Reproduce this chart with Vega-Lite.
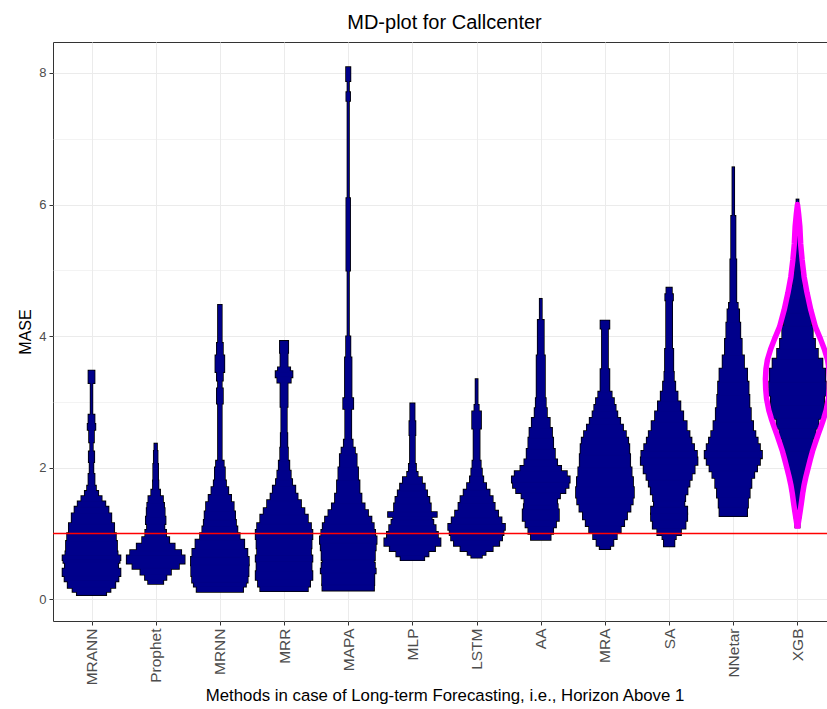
{
  "$schema": "https://vega.github.io/schema/vega-lite/v6.json",
  "width": 783,
  "height": 579,
  "autosize": "none",
  "padding": {"left": 53, "top": 42, "right": -9, "bottom": 88},
  "background": "white",
  "title": {
    "text": "MD-plot for Callcenter",
    "font": "Liberation Sans",
    "fontSize": 20,
    "fontWeight": "normal",
    "color": "black",
    "anchor": "middle",
    "offset": 9
  },
  "config": {
    "view": {"stroke": "#333333", "strokeWidth": 1},
    "axis": {
      "labelFont": "Liberation Sans",
      "titleFont": "Liberation Sans",
      "labelColor": "#4D4D4D",
      "titleColor": "black",
      "titleFontWeight": "normal",
      "domain": false,
      "tickColor": "#333333",
      "tickSize": 4,
      "gridColor": "#EBEBEB"
    }
  },
  "datasets": {
    "bins": [
      {"m":"MRANN","lo":0.07,"hi":0.12,"w":0.50},{"m":"MRANN","lo":0.12,"hi":0.18,"w":0.65},{"m":"MRANN","lo":0.18,"hi":0.28,"w":0.82},{"m":"MRANN","lo":0.28,"hi":0.36,"w":0.93},{"m":"MRANN","lo":0.36,"hi":0.46,"w":1.0},{"m":"MRANN","lo":0.46,"hi":0.56,"w":0.92},{"m":"MRANN","lo":0.56,"hi":0.60,"w":0.97},{"m":"MRANN","lo":0.60,"hi":0.66,"w":1.0},{"m":"MRANN","lo":0.66,"hi":0.72,"w":0.90},{"m":"MRANN","lo":0.72,"hi":0.88,"w":0.88},{"m":"MRANN","lo":0.88,"hi":1.0,"w":0.84},{"m":"MRANN","lo":1.0,"hi":1.15,"w":0.78},{"m":"MRANN","lo":1.15,"hi":1.3,"w":0.68},{"m":"MRANN","lo":1.3,"hi":1.4,"w":0.58},{"m":"MRANN","lo":1.4,"hi":1.48,"w":0.47},{"m":"MRANN","lo":1.48,"hi":1.56,"w":0.34},{"m":"MRANN","lo":1.56,"hi":1.64,"w":0.22},{"m":"MRANN","lo":1.64,"hi":1.72,"w":0.14},{"m":"MRANN","lo":1.72,"hi":1.90,"w":0.09},{"m":"MRANN","lo":1.90,"hi":2.09,"w":0.05},{"m":"MRANN","lo":2.09,"hi":2.24,"w":0.08},{"m":"MRANN","lo":2.24,"hi":2.39,"w":0.03},{"m":"MRANN","lo":2.39,"hi":2.58,"w":0.07},{"m":"MRANN","lo":2.58,"hi":2.66,"w":0.12},{"m":"MRANN","lo":2.66,"hi":2.80,"w":0.09},{"m":"MRANN","lo":2.80,"hi":3.29,"w":0.015},{"m":"MRANN","lo":3.29,"hi":3.47,"w":0.09},

      {"m":"Prophet","lo":0.24,"hi":0.30,"w":0.25},{"m":"Prophet","lo":0.30,"hi":0.38,"w":0.36},{"m":"Prophet","lo":0.38,"hi":0.47,"w":0.52},{"m":"Prophet","lo":0.47,"hi":0.55,"w":0.80},{"m":"Prophet","lo":0.55,"hi":0.66,"w":1.0},{"m":"Prophet","lo":0.66,"hi":0.74,"w":0.88},{"m":"Prophet","lo":0.74,"hi":0.84,"w":0.65},{"m":"Prophet","lo":0.84,"hi":0.94,"w":0.46},{"m":"Prophet","lo":0.94,"hi":1.05,"w":0.35},{"m":"Prophet","lo":1.05,"hi":1.15,"w":0.29},{"m":"Prophet","lo":1.15,"hi":1.25,"w":0.33},{"m":"Prophet","lo":1.25,"hi":1.38,"w":0.30},{"m":"Prophet","lo":1.38,"hi":1.46,"w":0.28},{"m":"Prophet","lo":1.46,"hi":1.56,"w":0.24},{"m":"Prophet","lo":1.56,"hi":1.66,"w":0.14},{"m":"Prophet","lo":1.66,"hi":1.80,"w":0.08},{"m":"Prophet","lo":1.80,"hi":2.05,"w":0.07},{"m":"Prophet","lo":2.05,"hi":2.25,"w":0.05},{"m":"Prophet","lo":2.25,"hi":2.36,"w":0.03},

      {"m":"MRNN","lo":0.12,"hi":0.20,"w":0.80},{"m":"MRNN","lo":0.20,"hi":0.26,"w":0.90},{"m":"MRNN","lo":0.26,"hi":0.36,"w":0.96},{"m":"MRNN","lo":0.36,"hi":0.52,"w":0.99},{"m":"MRNN","lo":0.52,"hi":0.64,"w":1.0},{"m":"MRNN","lo":0.64,"hi":0.76,"w":0.95},{"m":"MRNN","lo":0.76,"hi":0.90,"w":0.84},{"m":"MRNN","lo":0.90,"hi":1.00,"w":0.68},{"m":"MRNN","lo":1.00,"hi":1.10,"w":0.60},{"m":"MRNN","lo":1.10,"hi":1.20,"w":0.55},{"m":"MRNN","lo":1.20,"hi":1.33,"w":0.52},{"m":"MRNN","lo":1.33,"hi":1.47,"w":0.47},{"m":"MRNN","lo":1.47,"hi":1.58,"w":0.38},{"m":"MRNN","lo":1.58,"hi":1.70,"w":0.28},{"m":"MRNN","lo":1.70,"hi":1.80,"w":0.20},{"m":"MRNN","lo":1.80,"hi":2.00,"w":0.16},{"m":"MRNN","lo":2.00,"hi":2.10,"w":0.12},{"m":"MRNN","lo":2.10,"hi":2.98,"w":0.05},{"m":"MRNN","lo":2.98,"hi":3.20,"w":0.09},{"m":"MRNN","lo":3.20,"hi":3.33,"w":0.05},{"m":"MRNN","lo":3.33,"hi":3.46,"w":0.09},{"m":"MRNN","lo":3.46,"hi":3.70,"w":0.14},{"m":"MRNN","lo":3.70,"hi":3.89,"w":0.09},{"m":"MRNN","lo":3.89,"hi":4.47,"w":0.05},

      {"m":"MRR","lo":0.13,"hi":0.20,"w":0.82},{"m":"MRR","lo":0.20,"hi":0.30,"w":0.90},{"m":"MRR","lo":0.30,"hi":0.42,"w":0.98},{"m":"MRR","lo":0.42,"hi":0.58,"w":0.95},{"m":"MRR","lo":0.58,"hi":0.66,"w":0.98},{"m":"MRR","lo":0.66,"hi":0.78,"w":0.93},{"m":"MRR","lo":0.78,"hi":0.92,"w":0.95},{"m":"MRR","lo":0.92,"hi":1.05,"w":0.98},{"m":"MRR","lo":1.05,"hi":1.15,"w":0.93},{"m":"MRR","lo":1.15,"hi":1.28,"w":0.82},{"m":"MRR","lo":1.28,"hi":1.38,"w":0.70},{"m":"MRR","lo":1.38,"hi":1.50,"w":0.58},{"m":"MRR","lo":1.50,"hi":1.60,"w":0.46},{"m":"MRR","lo":1.60,"hi":1.72,"w":0.38},{"m":"MRR","lo":1.72,"hi":1.82,"w":0.27},{"m":"MRR","lo":1.82,"hi":1.95,"w":0.22},{"m":"MRR","lo":1.95,"hi":2.10,"w":0.17},{"m":"MRR","lo":2.10,"hi":2.30,"w":0.12},{"m":"MRR","lo":2.30,"hi":2.52,"w":0.10},{"m":"MRR","lo":2.52,"hi":2.93,"w":0.08},{"m":"MRR","lo":2.93,"hi":3.30,"w":0.11},{"m":"MRR","lo":3.30,"hi":3.38,"w":0.22},{"m":"MRR","lo":3.38,"hi":3.46,"w":0.28},{"m":"MRR","lo":3.46,"hi":3.52,"w":0.20},{"m":"MRR","lo":3.52,"hi":3.75,"w":0.11},{"m":"MRR","lo":3.75,"hi":3.92,"w":0.13},

      {"m":"MAPA","lo":0.14,"hi":0.22,"w":0.89},{"m":"MAPA","lo":0.22,"hi":0.40,"w":0.90},{"m":"MAPA","lo":0.40,"hi":0.46,"w":0.95},{"m":"MAPA","lo":0.46,"hi":0.55,"w":0.92},{"m":"MAPA","lo":0.55,"hi":0.60,"w":0.88},{"m":"MAPA","lo":0.60,"hi":0.75,"w":0.92},{"m":"MAPA","lo":0.75,"hi":0.85,"w":0.95},{"m":"MAPA","lo":0.85,"hi":0.95,"w":0.98},{"m":"MAPA","lo":0.95,"hi":1.05,"w":0.93},{"m":"MAPA","lo":1.05,"hi":1.15,"w":0.88},{"m":"MAPA","lo":1.15,"hi":1.25,"w":0.80},{"m":"MAPA","lo":1.25,"hi":1.35,"w":0.68},{"m":"MAPA","lo":1.35,"hi":1.45,"w":0.56},{"m":"MAPA","lo":1.45,"hi":1.60,"w":0.45},{"m":"MAPA","lo":1.60,"hi":1.80,"w":0.38},{"m":"MAPA","lo":1.80,"hi":2.00,"w":0.33},{"m":"MAPA","lo":2.00,"hi":2.20,"w":0.28},{"m":"MAPA","lo":2.20,"hi":2.30,"w":0.22},{"m":"MAPA","lo":2.30,"hi":2.42,"w":0.14},{"m":"MAPA","lo":2.42,"hi":2.90,"w":0.09},{"m":"MAPA","lo":2.90,"hi":3.05,"w":0.16},{"m":"MAPA","lo":3.05,"hi":3.67,"w":0.10},{"m":"MAPA","lo":3.67,"hi":3.99,"w":0.06},{"m":"MAPA","lo":3.99,"hi":5.00,"w":0.01},{"m":"MAPA","lo":5.00,"hi":6.09,"w":0.05},{"m":"MAPA","lo":6.09,"hi":7.58,"w":0.01},{"m":"MAPA","lo":7.58,"hi":7.70,"w":0.05},{"m":"MAPA","lo":7.70,"hi":7.88,"w":0.01},{"m":"MAPA","lo":7.88,"hi":8.08,"w":0.06},

      {"m":"MLP","lo":0.60,"hi":0.66,"w":0.40},{"m":"MLP","lo":0.66,"hi":0.74,"w":0.55},{"m":"MLP","lo":0.74,"hi":0.82,"w":0.78},{"m":"MLP","lo":0.82,"hi":0.92,"w":0.97},{"m":"MLP","lo":0.92,"hi":1.02,"w":0.88},{"m":"MLP","lo":1.02,"hi":1.12,"w":0.80},{"m":"MLP","lo":1.12,"hi":1.20,"w":0.72},{"m":"MLP","lo":1.20,"hi":1.26,"w":0.66},{"m":"MLP","lo":1.26,"hi":1.32,"w":0.84},{"m":"MLP","lo":1.32,"hi":1.45,"w":0.63},{"m":"MLP","lo":1.45,"hi":1.55,"w":0.58},{"m":"MLP","lo":1.55,"hi":1.65,"w":0.50},{"m":"MLP","lo":1.65,"hi":1.75,"w":0.42},{"m":"MLP","lo":1.75,"hi":1.85,"w":0.32},{"m":"MLP","lo":1.85,"hi":1.93,"w":0.17},{"m":"MLP","lo":1.93,"hi":2.05,"w":0.11},{"m":"MLP","lo":2.05,"hi":2.50,"w":0.07},{"m":"MLP","lo":2.50,"hi":2.70,"w":0.09},{"m":"MLP","lo":2.70,"hi":2.97,"w":0.06},

      {"m":"LSTM","lo":0.64,"hi":0.68,"w":0.17},{"m":"LSTM","lo":0.68,"hi":0.74,"w":0.30},{"m":"LSTM","lo":0.74,"hi":0.82,"w":0.55},{"m":"LSTM","lo":0.82,"hi":0.90,"w":0.78},{"m":"LSTM","lo":0.90,"hi":0.98,"w":0.88},{"m":"LSTM","lo":0.98,"hi":1.06,"w":0.93},{"m":"LSTM","lo":1.06,"hi":1.14,"w":0.98},{"m":"LSTM","lo":1.14,"hi":1.24,"w":0.86},{"m":"LSTM","lo":1.24,"hi":1.34,"w":0.74},{"m":"LSTM","lo":1.34,"hi":1.46,"w":0.62},{"m":"LSTM","lo":1.46,"hi":1.56,"w":0.55},{"m":"LSTM","lo":1.56,"hi":1.66,"w":0.44},{"m":"LSTM","lo":1.66,"hi":1.76,"w":0.32},{"m":"LSTM","lo":1.76,"hi":1.86,"w":0.22},{"m":"LSTM","lo":1.86,"hi":1.98,"w":0.17},{"m":"LSTM","lo":1.98,"hi":2.10,"w":0.13},{"m":"LSTM","lo":2.10,"hi":2.60,"w":0.09},{"m":"LSTM","lo":2.60,"hi":2.85,"w":0.14},{"m":"LSTM","lo":2.85,"hi":2.95,"w":0.06},{"m":"LSTM","lo":2.95,"hi":3.34,"w":0.02},

      {"m":"AA","lo":0.91,"hi":1.00,"w":0.33},{"m":"AA","lo":1.00,"hi":1.10,"w":0.42},{"m":"AA","lo":1.10,"hi":1.20,"w":0.52},{"m":"AA","lo":1.20,"hi":1.36,"w":0.62},{"m":"AA","lo":1.36,"hi":1.44,"w":0.58},{"m":"AA","lo":1.44,"hi":1.54,"w":0.56},{"m":"AA","lo":1.54,"hi":1.62,"w":0.66},{"m":"AA","lo":1.62,"hi":1.70,"w":0.85},{"m":"AA","lo":1.70,"hi":1.78,"w":0.96},{"m":"AA","lo":1.78,"hi":1.86,"w":1.0},{"m":"AA","lo":1.86,"hi":1.94,"w":0.90},{"m":"AA","lo":1.94,"hi":2.02,"w":0.70},{"m":"AA","lo":2.02,"hi":2.12,"w":0.56},{"m":"AA","lo":2.12,"hi":2.28,"w":0.48},{"m":"AA","lo":2.28,"hi":2.45,"w":0.42},{"m":"AA","lo":2.45,"hi":2.60,"w":0.38},{"m":"AA","lo":2.60,"hi":2.75,"w":0.30},{"m":"AA","lo":2.75,"hi":2.90,"w":0.20},{"m":"AA","lo":2.90,"hi":3.05,"w":0.16},{"m":"AA","lo":3.05,"hi":3.70,"w":0.13},{"m":"AA","lo":3.70,"hi":4.24,"w":0.09},{"m":"AA","lo":4.24,"hi":4.56,"w":0.02},

      {"m":"MRA","lo":0.77,"hi":0.82,"w":0.17},{"m":"MRA","lo":0.82,"hi":0.92,"w":0.28},{"m":"MRA","lo":0.92,"hi":1.02,"w":0.40},{"m":"MRA","lo":1.02,"hi":1.12,"w":0.54},{"m":"MRA","lo":1.12,"hi":1.22,"w":0.66},{"m":"MRA","lo":1.22,"hi":1.34,"w":0.76},{"m":"MRA","lo":1.34,"hi":1.45,"w":0.88},{"m":"MRA","lo":1.45,"hi":1.55,"w":0.96},{"m":"MRA","lo":1.55,"hi":1.70,"w":1.0},{"m":"MRA","lo":1.70,"hi":1.85,"w":0.97},{"m":"MRA","lo":1.85,"hi":2.00,"w":0.92},{"m":"MRA","lo":2.00,"hi":2.20,"w":0.87},{"m":"MRA","lo":2.20,"hi":2.35,"w":0.84},{"m":"MRA","lo":2.35,"hi":2.45,"w":0.80},{"m":"MRA","lo":2.45,"hi":2.55,"w":0.72},{"m":"MRA","lo":2.55,"hi":2.65,"w":0.62},{"m":"MRA","lo":2.65,"hi":2.75,"w":0.52},{"m":"MRA","lo":2.75,"hi":2.85,"w":0.42},{"m":"MRA","lo":2.85,"hi":2.95,"w":0.36},{"m":"MRA","lo":2.95,"hi":3.05,"w":0.30},{"m":"MRA","lo":3.05,"hi":3.15,"w":0.22},{"m":"MRA","lo":3.15,"hi":3.49,"w":0.14},{"m":"MRA","lo":3.49,"hi":4.12,"w":0.09},{"m":"MRA","lo":4.12,"hi":4.23,"w":0.14},

      {"m":"SA","lo":0.81,"hi":0.92,"w":0.17},{"m":"SA","lo":0.92,"hi":0.98,"w":0.22},{"m":"SA","lo":0.98,"hi":1.08,"w":0.40},{"m":"SA","lo":1.08,"hi":1.20,"w":0.56},{"m":"SA","lo":1.20,"hi":1.30,"w":0.62},{"m":"SA","lo":1.30,"hi":1.40,"w":0.62},{"m":"SA","lo":1.40,"hi":1.50,"w":0.52},{"m":"SA","lo":1.50,"hi":1.60,"w":0.55},{"m":"SA","lo":1.60,"hi":1.72,"w":0.63},{"m":"SA","lo":1.72,"hi":1.82,"w":0.70},{"m":"SA","lo":1.82,"hi":1.92,"w":0.78},{"m":"SA","lo":1.92,"hi":2.05,"w":0.88},{"m":"SA","lo":2.05,"hi":2.15,"w":0.98},{"m":"SA","lo":2.15,"hi":2.25,"w":0.96},{"m":"SA","lo":2.25,"hi":2.35,"w":0.86},{"m":"SA","lo":2.35,"hi":2.45,"w":0.77},{"m":"SA","lo":2.45,"hi":2.55,"w":0.70},{"m":"SA","lo":2.55,"hi":2.70,"w":0.60},{"m":"SA","lo":2.70,"hi":2.85,"w":0.48},{"m":"SA","lo":2.85,"hi":3.00,"w":0.38},{"m":"SA","lo":3.00,"hi":3.15,"w":0.28},{"m":"SA","lo":3.15,"hi":3.30,"w":0.20},{"m":"SA","lo":3.30,"hi":3.45,"w":0.15},{"m":"SA","lo":3.45,"hi":3.80,"w":0.13},{"m":"SA","lo":3.80,"hi":4.55,"w":0.09},{"m":"SA","lo":4.55,"hi":4.63,"w":0.12},{"m":"SA","lo":4.63,"hi":4.73,"w":0.08},

      {"m":"NNetar","lo":1.27,"hi":1.40,"w":0.47},{"m":"NNetar","lo":1.40,"hi":1.55,"w":0.50},{"m":"NNetar","lo":1.55,"hi":1.70,"w":0.56},{"m":"NNetar","lo":1.70,"hi":1.85,"w":0.62},{"m":"NNetar","lo":1.85,"hi":1.95,"w":0.72},{"m":"NNetar","lo":1.95,"hi":2.05,"w":0.82},{"m":"NNetar","lo":2.05,"hi":2.15,"w":0.92},{"m":"NNetar","lo":2.15,"hi":2.25,"w":0.99},{"m":"NNetar","lo":2.25,"hi":2.35,"w":0.92},{"m":"NNetar","lo":2.35,"hi":2.45,"w":0.84},{"m":"NNetar","lo":2.45,"hi":2.55,"w":0.76},{"m":"NNetar","lo":2.55,"hi":2.70,"w":0.68},{"m":"NNetar","lo":2.70,"hi":2.90,"w":0.60},{"m":"NNetar","lo":2.90,"hi":3.10,"w":0.55},{"m":"NNetar","lo":3.10,"hi":3.30,"w":0.52},{"m":"NNetar","lo":3.30,"hi":3.50,"w":0.47},{"m":"NNetar","lo":3.50,"hi":3.70,"w":0.36},{"m":"NNetar","lo":3.70,"hi":3.95,"w":0.28},{"m":"NNetar","lo":3.95,"hi":4.20,"w":0.23},{"m":"NNetar","lo":4.20,"hi":4.40,"w":0.19},{"m":"NNetar","lo":4.40,"hi":4.50,"w":0.14},{"m":"NNetar","lo":4.50,"hi":5.16,"w":0.09},{"m":"NNetar","lo":5.16,"hi":5.82,"w":0.06},{"m":"NNetar","lo":5.82,"hi":6.56,"w":0.015},

      {"m":"XGB","lo":1.10,"hi":1.25,"w":0.06},{"m":"XGB","lo":1.25,"hi":1.45,"w":0.10},{"m":"XGB","lo":1.45,"hi":1.65,"w":0.15},{"m":"XGB","lo":1.65,"hi":1.85,"w":0.22},{"m":"XGB","lo":1.85,"hi":2.05,"w":0.30},{"m":"XGB","lo":2.05,"hi":2.25,"w":0.40},{"m":"XGB","lo":2.25,"hi":2.45,"w":0.52},{"m":"XGB","lo":2.45,"hi":2.60,"w":0.62},{"m":"XGB","lo":2.60,"hi":2.75,"w":0.72},{"m":"XGB","lo":2.75,"hi":2.95,"w":0.90},{"m":"XGB","lo":2.95,"hi":3.10,"w":0.92},{"m":"XGB","lo":3.10,"hi":3.30,"w":0.98},{"m":"XGB","lo":3.30,"hi":3.50,"w":0.96},{"m":"XGB","lo":3.50,"hi":3.65,"w":0.86},{"m":"XGB","lo":3.65,"hi":3.80,"w":0.70},{"m":"XGB","lo":3.80,"hi":3.95,"w":0.60},{"m":"XGB","lo":3.95,"hi":4.15,"w":0.52},{"m":"XGB","lo":4.15,"hi":4.35,"w":0.46},{"m":"XGB","lo":4.35,"hi":4.55,"w":0.38},{"m":"XGB","lo":4.55,"hi":4.75,"w":0.27},{"m":"XGB","lo":4.75,"hi":4.95,"w":0.16},{"m":"XGB","lo":4.95,"hi":5.15,"w":0.09},{"m":"XGB","lo":5.15,"hi":5.60,"w":0.05},{"m":"XGB","lo":5.60,"hi":5.97,"w":0.03},{"m":"XGB","lo":5.97,"hi":6.07,"w":0.02}
    ],
    "xgbDensity": [
      {"m":"XGB","k":0,"v":1.08,"off":0},{"m":"XGB","k":1,"v":1.22,"off":-0.05},{"m":"XGB","k":2,"v":1.36,"off":-0.10},{"m":"XGB","k":3,"v":1.48,"off":-0.14},{"m":"XGB","k":4,"v":1.61,"off":-0.18},{"m":"XGB","k":5,"v":1.74,"off":-0.23},{"m":"XGB","k":6,"v":1.86,"off":-0.29},{"m":"XGB","k":7,"v":2.00,"off":-0.37},{"m":"XGB","k":8,"v":2.12,"off":-0.44},{"m":"XGB","k":9,"v":2.25,"off":-0.52},{"m":"XGB","k":10,"v":2.37,"off":-0.61},{"m":"XGB","k":11,"v":2.50,"off":-0.71},{"m":"XGB","k":12,"v":2.62,"off":-0.81},{"m":"XGB","k":13,"v":2.75,"off":-0.91},{"m":"XGB","k":14,"v":2.87,"off":-0.99},{"m":"XGB","k":15,"v":3.05,"off":-1.07},{"m":"XGB","k":16,"v":3.20,"off":-1.10},{"m":"XGB","k":17,"v":3.35,"off":-1.11},{"m":"XGB","k":18,"v":3.50,"off":-1.09},{"m":"XGB","k":19,"v":3.64,"off":-1.04},{"m":"XGB","k":20,"v":3.80,"off":-0.93},{"m":"XGB","k":21,"v":3.95,"off":-0.80},{"m":"XGB","k":22,"v":4.14,"off":-0.62},{"m":"XGB","k":23,"v":4.40,"off":-0.46},{"m":"XGB","k":24,"v":4.66,"off":-0.33},{"m":"XGB","k":25,"v":4.90,"off":-0.23},{"m":"XGB","k":26,"v":5.16,"off":-0.16},{"m":"XGB","k":27,"v":5.40,"off":-0.11},{"m":"XGB","k":28,"v":5.67,"off":-0.08},{"m":"XGB","k":29,"v":5.85,"off":-0.04},{"m":"XGB","k":30,"v":6.00,"off":0},
      {"m":"XGB","k":31,"v":5.85,"off":0.04},{"m":"XGB","k":32,"v":5.67,"off":0.08},{"m":"XGB","k":33,"v":5.40,"off":0.11},{"m":"XGB","k":34,"v":5.16,"off":0.16},{"m":"XGB","k":35,"v":4.90,"off":0.23},{"m":"XGB","k":36,"v":4.66,"off":0.33},{"m":"XGB","k":37,"v":4.40,"off":0.46},{"m":"XGB","k":38,"v":4.14,"off":0.62},{"m":"XGB","k":39,"v":3.95,"off":0.80},{"m":"XGB","k":40,"v":3.80,"off":0.93},{"m":"XGB","k":41,"v":3.64,"off":1.04},{"m":"XGB","k":42,"v":3.50,"off":1.09},{"m":"XGB","k":43,"v":3.35,"off":1.11},{"m":"XGB","k":44,"v":3.20,"off":1.10},{"m":"XGB","k":45,"v":3.05,"off":1.07},{"m":"XGB","k":46,"v":2.87,"off":0.99},{"m":"XGB","k":47,"v":2.75,"off":0.91},{"m":"XGB","k":48,"v":2.62,"off":0.81},{"m":"XGB","k":49,"v":2.50,"off":0.71},{"m":"XGB","k":50,"v":2.37,"off":0.61},{"m":"XGB","k":51,"v":2.25,"off":0.52},{"m":"XGB","k":52,"v":2.12,"off":0.44},{"m":"XGB","k":53,"v":2.00,"off":0.37},{"m":"XGB","k":54,"v":1.86,"off":0.29},{"m":"XGB","k":55,"v":1.74,"off":0.23},{"m":"XGB","k":56,"v":1.61,"off":0.18},{"m":"XGB","k":57,"v":1.48,"off":0.14},{"m":"XGB","k":58,"v":1.36,"off":0.10},{"m":"XGB","k":59,"v":1.22,"off":0.05},{"m":"XGB","k":60,"v":1.08,"off":0}
    ],
    "reference": [{"mase": 1}]
  },
  "layer": [
    {
      "data": {"name": "bins"},
      "mark": {"type": "bar", "color": "black", "stroke": "black", "strokeWidth": 2.6, "clip": true},
      "encoding": {
        "x": {
          "field": "m",
          "type": "nominal",
          "sort": ["MRANN","Prophet","MRNN","MRR","MAPA","MLP","LSTM","AA","MRA","SA","NNetar","XGB"],
          "scale": {"type": "point", "padding": 0.6, "domain": ["MRANN","Prophet","MRNN","MRR","MAPA","MLP","LSTM","AA","MRA","SA","NNetar","XGB"]},
          "axis": {
            "title": "Methods in case of Long-term Forecasting, i.e., Horizon Above 1",
            "titleFontSize": 16.8,
            "titlePadding": 3,
            "labelAngle": -90,
            "labelAlign": "right",
            "labelBaseline": "middle",
            "labelFontSize": 15.5,
            "labelPadding": 3,
            "grid": true,
            "gridWidth": 1
          }
        },
        "y": {
          "field": "lo",
          "type": "quantitative",
          "scale": {"domain": [-0.33, 8.47], "nice": false, "zero": false},
          "axis": {
            "title": "MASE",
            "titleFontSize": 16,
            "titlePadding": 5,
            "values": [0, 1, 2, 3, 4, 5, 6, 7, 8],
            "labelExpr": "datum.value % 2 === 0 ? format(datum.value, 'd') : ''",
            "labelFontSize": 13,
            "labelPadding": 3,
            "tickOpacity": {"condition": {"test": "datum.value % 2 !== 0", "value": 0}, "value": 1},
            "gridWidth": {"condition": {"test": "datum.value % 2 !== 0", "value": 0.6}, "value": 1},
            "grid": true
          }
        },
        "y2": {"field": "hi"},
        "size": {"field": "w", "type": "quantitative", "scale": {"domain": [0, 1], "range": [0, 57], "zero": true}, "legend": null}
      }
    },
    {
      "data": {"name": "bins"},
      "mark": {"type": "bar", "color": "#00008B", "stroke": "#00008B", "strokeWidth": 1, "clip": true},
      "encoding": {
        "x": {"field": "m", "type": "nominal"},
        "y": {"field": "lo", "type": "quantitative"},
        "y2": {"field": "hi"},
        "size": {"field": "w", "type": "quantitative", "legend": null}
      }
    },
    {
      "data": {"name": "xgbDensity"},
      "mark": {"type": "line", "stroke": "#FF00FF", "strokeWidth": 5.5, "strokeJoin": "round", "clip": true},
      "encoding": {
        "x": {"field": "m", "type": "nominal"},
        "y": {"field": "v", "type": "quantitative"},
        "xOffset": {"field": "off", "type": "quantitative", "scale": {"domain": [-1, 1], "range": [-28.9, 28.9]}},
        "order": {"field": "k", "type": "quantitative"},
        "color": {"value": "#FF00FF"}
      }
    },
    {
      "data": {"name": "reference"},
      "mark": {"type": "rule", "stroke": "#FF0000", "strokeWidth": 1.4},
      "encoding": {
        "y": {"field": "mase", "type": "quantitative"}
      }
    }
  ]
}
